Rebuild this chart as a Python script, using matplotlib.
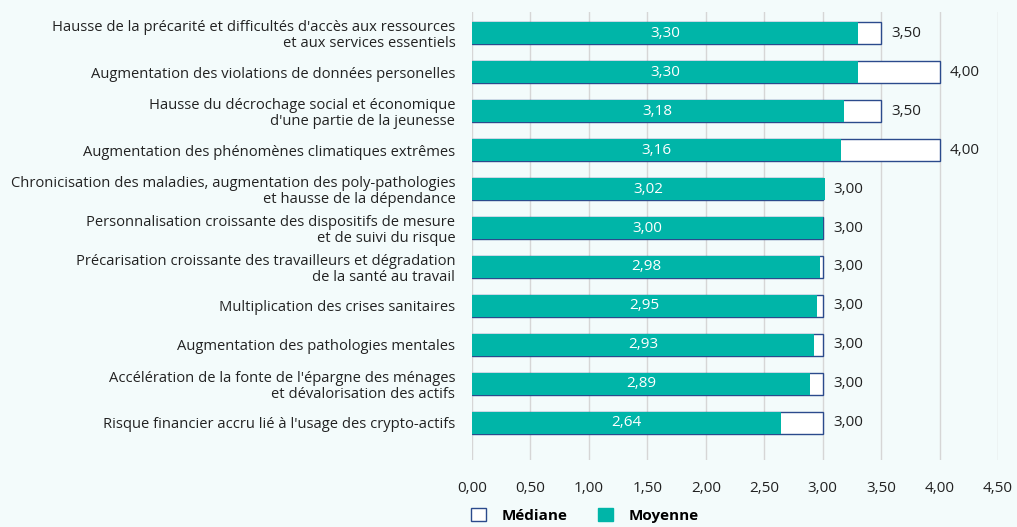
import matplotlib
matplotlib.use("Agg")
import matplotlib.pyplot as plt
from matplotlib.patches import Patch

categories = [
    "Hausse de la précarité et difficultés d'accès aux ressources\net aux services essentiels",
    "Augmentation des violations de données personelles",
    "Hausse du décrochage social et économique\nd'une partie de la jeunesse",
    "Augmentation des phénomènes climatiques extrêmes",
    "Chronicisation des maladies, augmentation des poly-pathologies\net hausse de la dépendance",
    "Personnalisation croissante des dispositifs de mesure\net de suivi du risque",
    "Précarisation croissante des travailleurs et dégradation\nde la santé au travail",
    "Multiplication des crises sanitaires",
    "Augmentation des pathologies mentales",
    "Accélération de la fonte de l'épargne des ménages\net dévalorisation des actifs",
    "Risque financier accru lié à l'usage des crypto-actifs",
]
moyenne = [3.30, 3.30, 3.18, 3.16, 3.02, 3.00, 2.98, 2.95, 2.93, 2.89, 2.64]
mediane = [3.50, 4.00, 3.50, 4.00, 3.00, 3.00, 3.00, 3.00, 3.00, 3.00, 3.00]
xticks = [0, 0.5, 1.0, 1.5, 2.0, 2.5, 3.0, 3.5, 4.0, 4.5]

BG = "#f3fbfb"
TEAL = "#00b5a8"
NAVY = "#2b4a8c"
FONT = ["Open Sans", "DejaVu Sans"]
plt.rcParams["font.family"] = FONT

def fr(v):
    return f"{v:.2f}".replace(".", ",")

fig = plt.figure(figsize=(10.17, 5.27), dpi=100, facecolor=BG)
ax = fig.add_axes([472/1017, 1-460/527, (998-472)/1017, 448/527], facecolor=BG)

y = list(range(len(categories)))
h = 0.57
ax.barh(y, mediane, height=h, color="white", edgecolor=NAVY, linewidth=1.0, zorder=2)
ax.barh(y, moyenne, height=h, color=TEAL, edgecolor="none", zorder=3)

for i, (m, md) in enumerate(zip(moyenne, mediane)):
    ax.text(m/2, i, fr(m), ha="center", va="center", color="white", fontsize=11, zorder=4)
    ax.text(md + 0.09, i, fr(md), ha="left", va="center", color="#222222", fontsize=11, zorder=4)

ax.set_xlim(0, 4.5)
ax.set_ylim(len(categories) - 1 + 0.95, -0.54)
ax.set_xticks(xticks)
ax.set_xticklabels([fr(t) for t in xticks], fontsize=11, color="#222222")
ax.set_yticks(y)
ax.set_yticklabels(categories, fontsize=10.6, color="#222222", linespacing=1.1)
ax.tick_params(axis="both", length=0)
ax.tick_params(axis="x", pad=15)
ax.tick_params(axis="y", pad=12)
ax.grid(axis="x", color="#d6d6d6", linewidth=1.0, zorder=0)
ax.set_axisbelow(True)
for s in ax.spines.values():
    s.set_visible(False)

handles = [Patch(facecolor="white", edgecolor=NAVY, label="Médiane"),
           Patch(facecolor=TEAL, edgecolor=TEAL, label="Moyenne")]
leg = fig.legend(handles=handles, loc="lower center", bbox_to_anchor=(0.575, -0.018), ncol=2,
                 frameon=False, handlelength=1.0, handleheight=1.0, handletextpad=1.0,
                 columnspacing=2.0, prop={"family": FONT, "weight": "bold", "size": 11})

fig.savefig("out.png", dpi=100, facecolor=BG)
